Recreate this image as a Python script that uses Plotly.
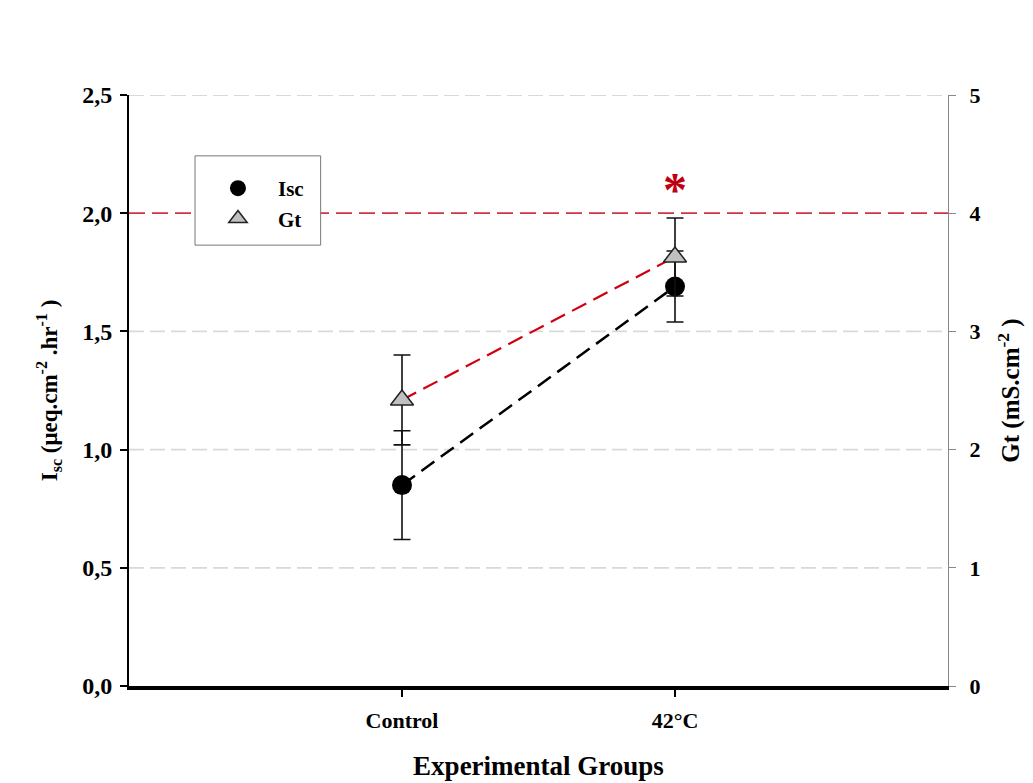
import plotly.graph_objects as go

# ---- data ----
groups = ["Control", "42°C"]
group_pos = [1, 2]
isc_mean = [0.85, 1.69]
isc_err = [0.23, 0.15]
gt_mean = [2.42, 3.63]
gt_err = [0.38, 0.33]
left_ticks = [0, 0.5, 1.0, 1.5, 2.0, 2.5]
left_ticktext = ["0,0", "0,5", "1,0", "1,5", "2,0", "2,5"]
right_ticks = [0, 1, 2, 3, 4, 5]
grid_vals = [0.5, 1.0, 1.5, 2.5]
ref_isc = 2.0
star_y = 2.128

FONT = "Liberation Serif"

fig = go.Figure()

fig.add_trace(go.Scatter(
    x=group_pos, y=gt_mean, name="Gt", yaxis="y2",
    mode="lines+markers",
    line=dict(color="#d00010", width=2.2, dash="16px,8px"),
    marker=dict(symbol="triangle-up", size=20, color="#c0c0c0",
                line=dict(color="#222222", width=1.5)),
    error_y=dict(type="data", array=gt_err, color="#111111", thickness=1.6, width=8.5),
    showlegend=False,
))
fig.add_trace(go.Scatter(
    x=group_pos, y=isc_mean, name="Isc", yaxis="y",
    mode="lines+markers",
    line=dict(color="#000000", width=2.5, dash="16px,8px"),
    marker=dict(symbol="circle", size=20, color="#000000"),
    error_y=dict(type="data", array=isc_err, color="#111111", thickness=1.6, width=8.5),
    showlegend=False,
))
# legend entries (markers only)
fig.add_trace(go.Scatter(x=[None], y=[None], name="<b>Isc</b>", mode="markers",
                         marker=dict(symbol="circle", size=20, color="#000000")))
fig.add_trace(go.Scatter(x=[None], y=[None], name="<b>Gt</b>", mode="markers",
                         marker=dict(symbol="triangle-up", size=19, color="#c0c0c0",
                                     line=dict(color="#222222", width=1.5))))

shapes = []
for g in grid_vals:
    shapes.append(dict(type="line", xref="paper", x0=0, x1=1, yref="y", y0=g, y1=g,
                       line=dict(color="#d9d9d9", width=1.8, dash="15px,6px"), layer="below"))
shapes.append(dict(type="line", xref="paper", x0=0, x1=1, yref="y", y0=ref_isc, y1=ref_isc,
                   line=dict(color="#d03545", width=1.8, dash="16px,7px"), layer="below"))
# legend frame
shapes.append(dict(type="rect", xref="paper", yref="paper", x0=0.0806, x1=0.234, y0=0.746, y1=0.897,
                   fillcolor="white", line=dict(color="#777777", width=1), layer="above"))
fig.update_layout(shapes=shapes)

fig.add_annotation(x=group_pos[1], y=star_y, xref="x", yref="y", text="<b>*</b>",
                   showarrow=False, font=dict(family=FONT, size=48, color="#c00010"),
                   yanchor="middle", yshift=-7)

fig.update_layout(
    width=1025, height=775,
    margin=dict(l=121, r=85, t=87, b=97, autoexpand=False),
    paper_bgcolor="white", plot_bgcolor="white",
    font=dict(family=FONT, color="black"),
    xaxis=dict(
        range=[0, 3], tickvals=group_pos, ticktext=["<b>%s</b>" % g for g in groups],
        tickfont=dict(size=22, family=FONT), ticks="outside", ticklen=7, tickwidth=1.5,
        tickcolor="black", showline=True, linecolor="black", linewidth=4,
        showgrid=False, zeroline=False, automargin=False, ticklabelstandoff=5,
        title=dict(text="<b>Experimental Groups</b>", font=dict(size=27, family=FONT), standoff=25),
    ),
    yaxis=dict(
        range=[0, 2.5], tickvals=left_ticks, ticktext=["<b>%s</b>" % t for t in left_ticktext],
        tickfont=dict(size=24, family=FONT), ticks="outside", ticklen=7, tickwidth=1.5,
        tickcolor="black", showline=True, linecolor="black", linewidth=2,
        showgrid=False, zeroline=False, ticklabelstandoff=3, automargin=False,
        title=dict(text="<b>I<sub>sc</sub> (μeq.cm<sup>-2</sup> .hr<sup>-1</sup> )</b>",
                   font=dict(size=23, family=FONT), standoff=18),
    ),
    yaxis2=dict(
        range=[0, 5], tickvals=right_ticks, ticktext=["<b>%d</b>" % t for t in right_ticks],
        overlaying="y", side="right",
        tickfont=dict(size=22, family=FONT), ticks="outside", ticklen=7, tickwidth=1,
        tickcolor="#888888", showline=True, linecolor="#888888", linewidth=1,
        showgrid=False, zeroline=False, ticklabelstandoff=9, automargin=False,
        title=dict(text="<b>Gt (mS.cm<sup>-2</sup> )</b>", font=dict(size=25, family=FONT), standoff=22),
    ),
    legend=dict(
        x=0.0842, y=0.8765, xanchor="left", yanchor="top",
        bgcolor="rgba(0,0,0,0)", borderwidth=0,
        font=dict(size=21, family=FONT), traceorder="normal",
        itemwidth=70, tracegroupgap=0,
    ),
    showlegend=True,
)

fig.write_html("out.html")
